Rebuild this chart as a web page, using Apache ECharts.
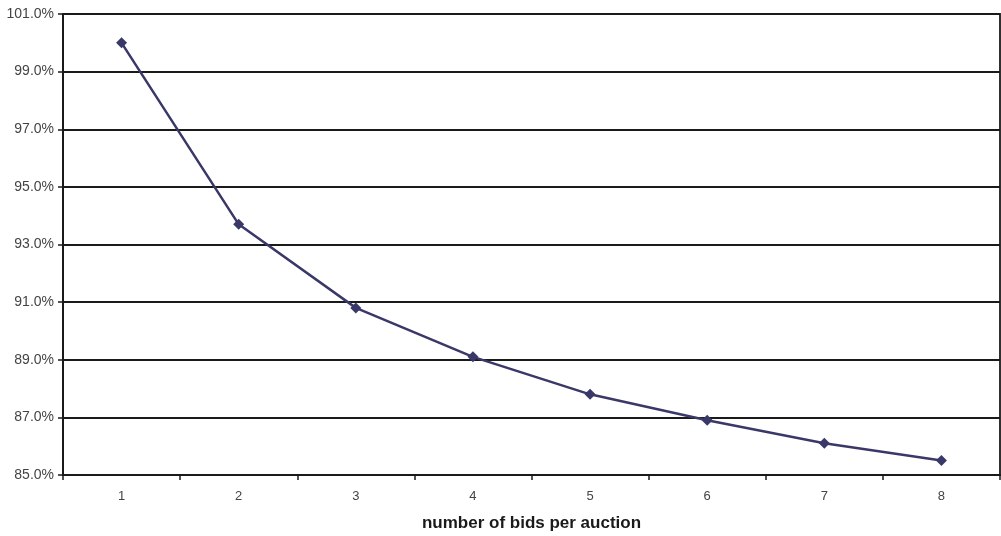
<!DOCTYPE html>
<html><head><meta charset="utf-8">
<script src="https://cdn.jsdelivr.net/npm/echarts@6/dist/echarts.min.js"></script>
<style>html,body{margin:0;padding:0;background:#fff}#c{width:1001px;height:536px}</style>
</head><body><div id="c"></div>
<script>
var categories = ['1','2','3','4','5','6','7','8'];
var values = [100.0, 93.7, 90.8, 89.1, 87.8, 86.9, 86.1, 85.5];
var xTitle = 'number of bids per auction';
var chart = echarts.init(document.getElementById('c'));
chart.setOption({
  animation: false,
  backgroundColor: '#fff',
  grid: {left: 63, right: 1, top: 14, bottom: 61, outerBoundsMode: 'none', containLabel: false, show: true, borderColor: '#1a1a1a', borderWidth: 1.8, backgroundColor: 'transparent'},
  xAxis: {
    type: 'category', data: categories, boundaryGap: true,
    name: xTitle, nameLocation: 'middle', nameGap: 40,
    nameTextStyle: {fontFamily: 'Liberation Sans, Arial', fontSize: 17, fontWeight: 'bold', color: '#1a1a1a'},
    axisLine: {lineStyle: {color: '#1a1a1a', width: 2}},
    axisTick: {show: true, length: 5, lineStyle: {color: '#1a1a1a', width: 1.5}},
    axisLabel: {fontFamily: 'Liberation Sans, Arial', fontSize: 13, color: '#444', margin: 15}
  },
  yAxis: {
    type: 'value', min: 85, max: 101, interval: 2,
    axisLine: {show: true, lineStyle: {color: '#1a1a1a', width: 2}},
    axisTick: {show: true, length: 5, lineStyle: {color: '#1a1a1a', width: 1.5}},
    splitLine: {lineStyle: {color: '#1a1a1a', width: 1.8}},
    axisLabel: {fontFamily: 'Liberation Sans, Arial', fontSize: 14, color: '#444', margin: 9,
      formatter: function(v){return v.toFixed(1)+'%';}}
  },
  series: [{
    type: 'line', data: values, smooth: false,
    symbol: 'diamond', symbolSize: 11,
    lineStyle: {color: '#3a3868', width: 2.5},
    itemStyle: {color: '#3a3868'}
  }]
});
</script></body></html>
